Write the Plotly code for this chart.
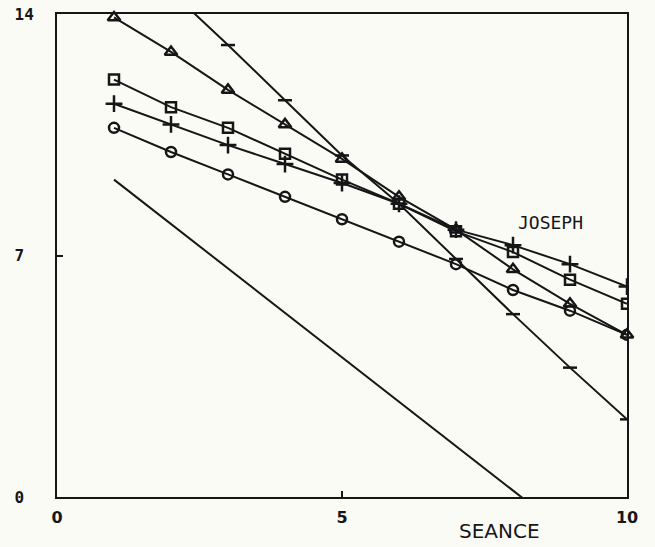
import plotly.graph_objects as go

seances = [1, 2, 3, 4, 5, 6, 7, 8, 9, 10]
triangle_vals = [13.9, 12.9, 11.8, 10.8, 9.8, 8.7, 7.75, 6.6, 5.6, 4.7]
square_vals = [12.1, 11.3, 10.7, 9.95, 9.2, 8.5, 7.7, 7.1, 6.3, 5.6]
plus_vals = [11.4, 10.8, 10.2, 9.65, 9.1, 8.5, 7.75, 7.3, 6.75, 6.1]
circle_vals = [10.7, 10.0, 9.35, 8.7, 8.05, 7.4, 6.75, 6.0, 5.4, 4.7]
steep_x = [2, 3, 4, 5, 6, 7, 8, 9, 10]
steep_vals = [14.65, 13.1, 11.5, 9.9, 8.5, 6.9, 5.3, 3.75, 2.25]
plain_x = [1, 2, 3, 4, 5, 6, 7, 8, 9]
plain_vals = [9.2, 7.91, 6.63, 5.34, 4.05, 2.77, 1.48, 0.19, -1.1]

x_ticks = [0, 5, 10]
y_ticks = [0, 7, 14]
y_tick_text = ["0\u00a0", "7\u00a0", "14"]

INK = "#161616"
BG = "#fbfbf6"

fig = go.Figure()

def add_series(x, y, symbol, size, clip=True):
    fig.add_trace(go.Scatter(
        x=x, y=y, mode="lines+markers",
        line=dict(color=INK, width=2),
        marker=dict(symbol=symbol, size=size, color=INK,
                    line=dict(color=INK, width=2.5)),
        cliponaxis=clip, showlegend=False, hoverinfo="skip"))

add_series(seances, triangle_vals, "triangle-up-open", 11, clip=False)
add_series(seances, square_vals, "square-open", 10)
add_series(seances, plus_vals, "cross-thin-open", 12)
add_series(seances, circle_vals, "circle-open", 10)
add_series(steep_x, steep_vals, "line-ew-open", 10)

fig.add_trace(go.Scatter(
    x=plain_x, y=plain_vals, mode="lines",
    line=dict(color=INK, width=2),
    showlegend=False, hoverinfo="skip"))

fig.add_annotation(x=8.65, y=7.97, xref="x", yref="y", text="JOSEPH",
                   showarrow=False,
                   font=dict(family="DejaVu Sans Mono", size=18, color=INK))
fig.add_annotation(x=7.77, y=-0.07, xref="x", yref="paper", text="SEANCE",
                   showarrow=False, yanchor="middle",
                   font=dict(family="DejaVu Sans", size=20, color=INK))

fig.update_xaxes(range=[0, 10], tickvals=x_ticks, ticks="inside", ticklen=6,
                 tickwidth=1.5, tickcolor=INK, showline=True, linecolor=INK,
                 linewidth=2, mirror=True, showgrid=False, zeroline=False,
                 ticklabelstandoff=5, automargin=False,
                 tickfont=dict(family="DejaVu Sans", size=16, color=INK,
                               weight="bold"))
fig.update_yaxes(range=[0, 14], tickvals=y_ticks, ticktext=y_tick_text,
                 ticks="inside", ticklen=6, tickwidth=1.5, tickcolor=INK,
                 showline=True, linecolor=INK, linewidth=2, mirror=True,
                 showgrid=False, zeroline=False, ticklabelstandoff=18,
                 automargin=False,
                 tickfont=dict(family="DejaVu Sans Mono", size=16, color=INK,
                               weight="bold"))

fig.update_layout(width=655, height=547,
                  margin=dict(l=57, r=28, t=14, b=50),
                  paper_bgcolor=BG, plot_bgcolor=BG)

fig.write_html("out.html",
               config={"displayModeBar": False},
               post_script="document.body.style.margin='0';"
                           "document.body.style.overflow='hidden';")
